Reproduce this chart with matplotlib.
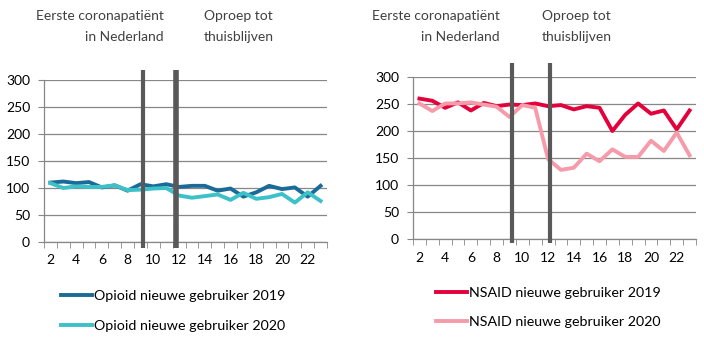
import numpy as np
import matplotlib
matplotlib.use("Agg")
import matplotlib.pyplot as plt

plt.rcParams['font.family'] = ['Lato', 'DejaVu Sans']

weeks = list(range(2, 24))
tick_weeks = list(range(2, 23, 2))

opioid_2019 = [110, 112, 109, 111, 101, 105, 95, 107, 103, 107, 102,
               104, 104, 95, 99, 84, 92, 104, 98, 101, 84, 104]
opioid_2020 = [109, 100, 103, 102, 102, 105, 96, 97, 99, 100, 86,
               82, 85, 88, 78, 91, 80, 83, 89, 73, 92, 76]
nsaid_2019 = [260, 256, 243, 253, 238, 252, 246, 249, 248, 251, 246,
              248, 240, 246, 243, 200, 230, 251, 232, 238, 203, 238]
nsaid_2020 = [251, 237, 251, 251, 253, 249, 245, 226, 248, 243, 148,
              128, 132, 158, 144, 166, 152, 152, 182, 163, 197, 155]

W, H = 704, 340
fig = plt.figure(figsize=(W / 100, H / 100), dpi=100)

grey = '#878787'
text_col = '#404040'


def make_axes(left, right, top, bottom):
    return fig.add_axes([left / W, (H - bottom) / H, (right - left) / W, (bottom - top) / H])


def style(ax):
    x = np.arange(len(weeks))
    ax.set_xlim(-0.5, len(weeks) - 0.5)
    ax.set_ylim(0, 300)
    ax.set_yticks(range(0, 301, 50))
    ax.set_xticks([weeks.index(w) for w in tick_weeks])
    ax.set_xticklabels([str(w) for w in tick_weeks])
    ax.set_xticks(np.arange(-0.5, len(weeks)), minor=True)
    ax.tick_params(axis='x', which='major', length=0, pad=9, labelsize=10, labelcolor='black')
    ax.tick_params(axis='x', which='minor', length=4, color=grey, direction='out')
    ax.tick_params(axis='y', length=4, color=grey, labelsize=10, labelcolor='black', pad=6)
    ax.grid(axis='y', color=grey, linewidth=0.9)
    ax.set_axisbelow(True)
    for s in ['top', 'right']:
        ax.spines[s].set_visible(False)
    for s in ['left', 'bottom']:
        ax.spines[s].set_color(grey)
        ax.spines[s].set_linewidth(0.9)
    return x


def marker_lines(ax, positions, widths, ytop, ybot):
    for p, lw in zip(positions, widths):
        ax.plot([p, p], [ybot, ytop], color='#595959', linewidth=lw,
                solid_capstyle='butt', clip_on=False, zorder=5)


def annotations(x_right, x_left):
    fig.text(x_right / W, 1 - 16 / H, 'Eerste coronapatiënt', ha='right', va='center',
             fontsize=10, color=text_col)
    fig.text(x_right / W, 1 - 37 / H, 'in Nederland', ha='right', va='center',
             fontsize=10, color=text_col)
    fig.text(x_left / W, 1 - 16 / H, 'Oproep tot', ha='left', va='center',
             fontsize=10, color=text_col)
    fig.text(x_left / W, 1 - 37 / H, 'thuisblijven', ha='left', va='center',
             fontsize=10, color=text_col)


# left: opioids
ax1 = make_axes(44, 327, 80, 242)
x = style(ax1)
l1, = ax1.plot(x, opioid_2019, color='#1A6B98', linewidth=2.8, label='Opioid nieuwe gebruiker 2019')
l2, = ax1.plot(x, opioid_2020, color='#3DC1C9', linewidth=2.8, label='Opioid nieuwe gebruiker 2020')
marker_lines(ax1, [7.17, 9.74], [3, 4], 318, -11)
annotations(164, 204)
fig.legend(handles=[l1, l2], loc='upper left', bbox_to_anchor=(55 / W, 1 - 284 / H),
           frameon=False, fontsize=10.3, handlelength=2.2, handletextpad=0.1,
           labelspacing=1.25, borderaxespad=0)

# right: NSAIDs
ax2 = make_axes(413, 696, 77, 239)
x = style(ax2)
l3, = ax2.plot(x, nsaid_2019, color='#E4003B', linewidth=2.8, label='NSAID nieuwe gebruiker 2019')
l4, = ax2.plot(x, nsaid_2020, color='#F59BAA', linewidth=2.8, label='NSAID nieuwe gebruiker 2020')
marker_lines(ax2, [7.23, 10.16], [3, 3], 326, -7)
annotations(500, 542)
fig.legend(handles=[l3, l4], loc='upper left', bbox_to_anchor=(430 / W, 1 - 281 / H),
           frameon=False, fontsize=10.3, handlelength=2.2, handletextpad=0.1,
           labelspacing=1.2, borderaxespad=0)

fig.savefig('out.png', dpi=100)
